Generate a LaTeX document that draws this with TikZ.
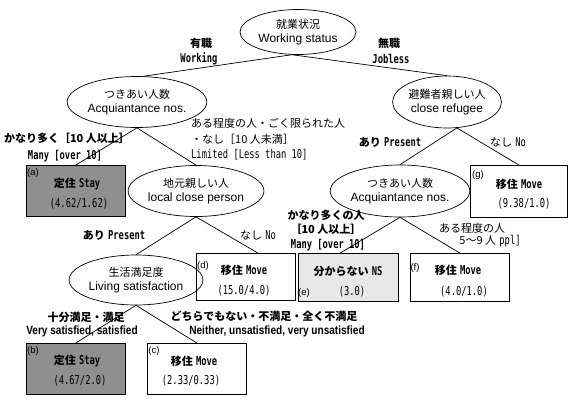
\documentclass[tikz,border=0pt]{standalone}
\usepackage{fontspec}
\usetikzlibrary{shapes.geometric,calc}
\newfontfamily\jp{Noto Sans CJK JP}
\newfontfamily\lat{Liberation Sans}
\newfontfamily\latc[FakeStretch=0.84]{Liberation Sans}
\newfontfamily\mono[FakeStretch=0.72]{DejaVu Sans Mono}
\newcommand\J{\fontsize{11}{13}\selectfont\jp}
\newcommand\JB{\fontsize{11}{13}\selectfont\jp\bfseries}
\newcommand\M{\fontsize{12.2}{13}\selectfont\mono}
\newcommand\MB{\fontsize{12.2}{13}\selectfont\mono\bfseries}
\newcommand\LT{\fontsize{12}{14}\selectfont\lat}
\newcommand\LC{\fontsize{12}{14}\selectfont\latc\bfseries}
\newcommand\SM{\fontsize{9.5}{10}\selectfont\lat}
\begin{document}
\begin{tikzpicture}[x=1pt,y=-1pt,
  ell/.style={draw, ellipse, line width=0.7pt, inner sep=0, align=center, font=\fontsize{11}{14}\selectfont},
  box/.style={draw, rectangle, line width=0.7pt, inner sep=0, anchor=north west},
  conn/.style={line width=0.7pt},
  lbl/.style={inner sep=0, align=center},
  darkbox/.style={box, fill=black!44},
  lightbox/.style={box, fill=black!9}]
\useasboundingbox (0,0) rectangle (568,399);

% ellipses
\node[ell, minimum width=116, minimum height=45] (root) at (298,32) {{\J 就業状況}\\{\LT Working status}};
\node[ell, minimum width=117, minimum height=51] (L1) at (137,102) {{\J つきあい人数}\\{\LT Acquiantance nos.}};
\node[ell, minimum width=106, minimum height=52] (R1) at (447,102) {{\J 避難者親しい人}\\{\LT close refugee}};
\node[ell, minimum width=114, minimum height=51] (L2) at (196,191) {{\J 地元親しい人}\\{\LT local close person}};
\node[ell, minimum width=116, minimum height=52] (R2) at (400,191) {{\J つきあい人数}\\{\LT Acquiantance nos.}};
\node[ell, minimum width=115, minimum height=50] (L3) at (136,280) {{\J 生活満足度}\\{\LT Living satisfaction}};

% boxes
\node[darkbox, minimum width=99, minimum height=51] (a) at (26,165) {};
\node[darkbox, minimum width=99, minimum height=51] (b) at (26,343) {};
\node[box, minimum width=99, minimum height=51] (c) at (147,343) {};
\node[box, minimum width=99, minimum height=47] (d) at (196,253) {};
\node[lightbox, minimum width=100, minimum height=48] (e) at (298,253) {};
\node[box, minimum width=99, minimum height=48] (f) at (410,253) {};
\node[box, minimum width=97, minimum height=52] (g) at (470,165) {};

\coordinate (dtop) at ($(d.north west)!0.62!(d.north east)$);
\coordinate (etop) at ($(e.north west)!0.42!(e.north east)$);

% connectors
\draw[conn] (root.-105) -- (L1.76);
\draw[conn] (root.-105) -- (R1.north);
\draw[conn] (L1.south) -- (a.north);
\draw[conn] (L1.south) -- (L2.north);
\draw[conn] (R1.-69) -- (R2.north);
\draw[conn] (R1.-69) -- (g.north);
\draw[conn] (L2.south) -- (L3.north);
\draw[conn] (L2.south) -- (dtop);
\draw[conn] (R2.south) -- (etop);
\draw[conn] (R2.south) -- (f.north);
\draw[conn] (L3.south) -- (b.north);
\draw[conn] (L3.south) -- (c.north);

% box contents
\node[lbl] (alab) at (33,173) {\SM (a)};
\node[lbl] (atxt) at (77,184) {{\JB 定住} {\MB Stay}};
\node[lbl] (aval) at (79,204) {\M (4.62/1.62)};
\node[lbl] (blab) at (33,351) {\SM (b)};
\node[lbl] (btxt) at (77,361) {{\JB 定住} {\MB Stay}};
\node[lbl] (bval) at (80,381) {\M (4.67/2.0)};
\node[lbl] (clab) at (154,351) {\SM (c)};
\node[lbl] (ctxt) at (194,361) {{\JB 移住} {\MB Move}};
\node[lbl] (cval) at (191,381) {\M (2.33/0.33)};
\node[lbl] (dlab) at (203,266) {\SM (d)};
\node[lbl] (dtxt) at (244,270) {{\JB 移住} {\MB Move}};
\node[lbl] (dval) at (244,291) {\M (15.0/4.0)};
\node[lbl] (etxt) at (348,271) {{\JB 分からない} {\MB NS}};
\node[lbl] (elab) at (304,293) {\SM (e)};
\node[lbl] (eval) at (352,292) {\M (3.0)};
\node[lbl] (flab) at (415,268) {\SM (f)};
\node[lbl] (ftxt) at (458,270) {{\JB 移住} {\MB Move}};
\node[lbl] (fval) at (464,292) {\M (4.0/1.0)};
\node[lbl] (glab) at (478,175) {\SM (g)};
\node[lbl] (gtxt) at (519,184) {{\JB 移住} {\MB Move}};
\node[lbl] (gval) at (524,204) {\M (9.38/1.0)};

% edge labels
\node[lbl] (w1) at (201,43) {\JB 有職};
\node[lbl] (w2) at (199,59) {\MB Working};
\node[lbl] (j1) at (389,43) {\JB 無職};
\node[lbl] (j2) at (391,59) {\MB Jobless};
\node[lbl] (m1) at (67,138) {\JB かなり多く［10 人以上］};
\node[lbl] (m2) at (65,156) {\MB Many [over 10]};
\node[lbl, anchor=west] (s1) at (191,123) {\J ある程度の人・ごく限られた人};
\node[lbl, anchor=west] (s2) at (191,139) {\J ・なし［10 人未満］};
\node[lbl, anchor=west] (s3) at (191,155) {\M Limited [Less than 10]};
\node[lbl] (p1) at (114,235) {{\JB あり} {\MB Present}};
\node[lbl] (n1) at (258,235) {{\J なし} {\M No}};
\node[lbl] (v1) at (86,317) {\JB 十分満足・満足};
\node[lbl] (v2) at (82,331) {\LC Very satisfied, satisfied};
\node[lbl] (u1) at (264,316) {\JB どちらでもない・不満足・全く不満足};
\node[lbl] (u2) at (277,331) {\LC Neither, unsatisfied, very unsatisfied};
\node[lbl] (p2) at (390,142) {{\JB あり} {\MB Present}};
\node[lbl] (n2) at (508,142) {{\J なし} {\M No}};
\node[lbl] (k1) at (326,215) {\JB かなり多くの人};
\node[lbl] (k2) at (326,229) {\JB ［10 人以上］};
\node[lbl] (k3) at (328,245) {\MB Many [over 10]};
\node[lbl] (r1) at (472,228) {\J ある程度の人};
\node[lbl] (r2) at (490,241) {{\J 5～9 人} {\M ppl]}};
\end{tikzpicture}
\end{document}
